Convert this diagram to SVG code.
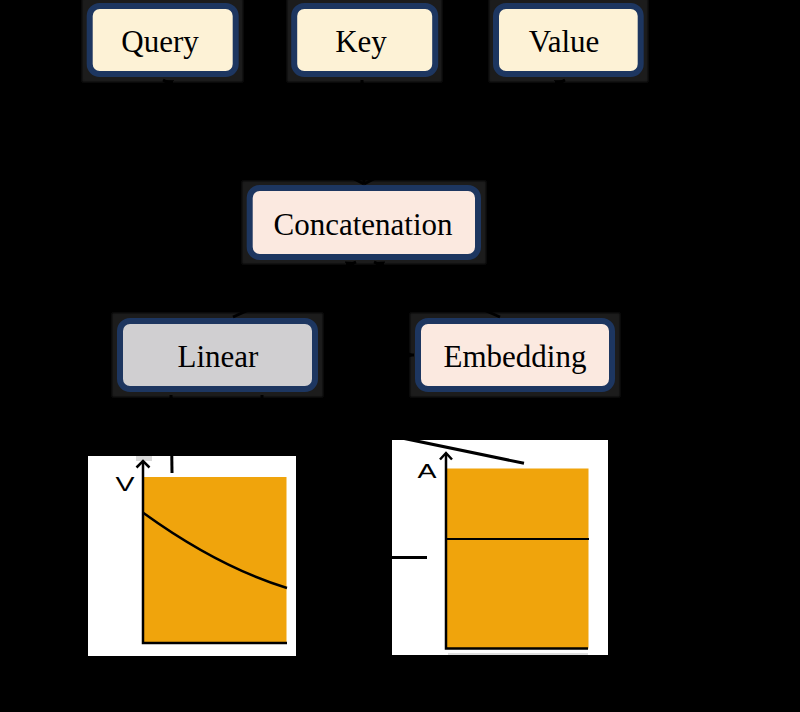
<svg xmlns="http://www.w3.org/2000/svg" width="800" height="712" viewBox="0 0 800 712">
<defs>
<marker id="arr" markerUnits="userSpaceOnUse" markerWidth="11" markerHeight="11" refX="10" refY="5" orient="auto">
<path d="M0,0 L10,5 L0,10 z" fill="#000"/>
</marker>
<filter id="soft" x="-10%" y="-10%" width="120%" height="120%">
<feGaussianBlur stdDeviation="1.5"/>
</filter>
<style>
.sh{fill:#1f1f1f;filter:url(#soft)}
.box{stroke:#1d3660;stroke-width:6}
.q{fill:#fdf2d6}
.p{fill:#fbe9e0}
.g{fill:#d0cfd1}
.lbl{font-family:"Liberation Serif","Times New Roman",serif;font-size:31px;fill:#000;text-anchor:middle}
.ax{font-family:"Liberation Sans",Arial,sans-serif;font-size:20px;fill:#000;text-anchor:middle}
.ln{stroke:#000;fill:none}
.con{stroke:#000;stroke-width:3;fill:none}
</style>
</defs>
<rect x="0" y="0" width="800" height="712" fill="#000"/>

<g id="plot-v">
<rect x="88" y="456" width="208" height="200" fill="#fff"/>
<rect x="136" y="456" width="16" height="5" fill="#d9d9d9"/>
<rect x="143.5" y="477" width="143" height="166" fill="#f0a40c"/>
<path class="ln" stroke-width="2.5" d="M143,462 V643 H287"/>
<path class="ln" stroke-width="2.5" d="M136.5,467.5 L143,461 L149.5,467.5"/>
<path class="ln" stroke-width="2.5" d="M143.5,513 C185,543 235,572 287,588"/>
<text class="ax" x="125" y="491" textLength="19" lengthAdjust="spacingAndGlyphs">V</text>
</g>

<g id="plot-a">
<rect x="392" y="440" width="216" height="215" fill="#fff"/>
<rect x="446.5" y="468.5" width="142" height="180" fill="#f0a40c"/>
<line x1="448" y1="654" x2="588" y2="654" stroke="#dedede" stroke-width="2"/>
<path class="ln" stroke-width="2.5" d="M446,454 V648.5 H588"/>
<path class="ln" stroke-width="2.5" d="M440,459.5 L446,453 L452,459.5"/>
<line class="ln" stroke-width="2" x1="446" y1="539" x2="589" y2="539"/>
<text class="ax" x="427" y="478" textLength="19" lengthAdjust="spacingAndGlyphs">A</text>
</g>

<g id="query">
<rect class="sh" x="82" y="-2" width="161" height="84"/>
<rect class="box q" x="89.7" y="6" width="146" height="68" rx="10"/>
<text class="lbl" x="160" y="52">Query</text>
</g>
<g id="key">
<rect class="sh" x="287" y="-2" width="155" height="84"/>
<rect class="box q" x="294.2" y="6" width="141" height="68" rx="10"/>
<text class="lbl" x="361" y="52">Key</text>
</g>
<g id="value">
<rect class="sh" x="489" y="-2" width="159" height="84"/>
<rect class="box q" x="496" y="6" width="144.7" height="68" rx="10"/>
<text class="lbl" x="564" y="52">Value</text>
</g>
<g id="concatenation">
<rect class="sh" x="242" y="181" width="244" height="83"/>
<rect class="box p" x="249.7" y="188" width="228.3" height="69" rx="10"/>
<text class="lbl" x="363" y="235">Concatenation</text>
</g>
<g id="linear">
<rect class="sh" x="112" y="313" width="211" height="84"/>
<rect class="box g" x="120" y="321" width="195" height="68" rx="10"/>
<text class="lbl" x="218" y="367">Linear</text>
</g>
<g id="embedding">
<rect class="sh" x="410" y="313" width="210" height="84"/>
<rect class="box p" x="418" y="321" width="194" height="68" rx="10"/>
<text class="lbl" x="515" y="367">Embedding</text>
</g>

<g id="connectors">
<path class="con" d="M364,184 L163,80" marker-end="url(#arr)"/>
<path class="con" d="M364,184 L362,80" marker-end="url(#arr)"/>
<path class="con" d="M364,184 L565,80" marker-end="url(#arr)"/>
<path class="con" d="M233,317 L356,262" marker-end="url(#arr)"/>
<path class="con" d="M500,317 L374,262" marker-end="url(#arr)"/>
<path class="con" d="M328,355 L414,355" marker-end="url(#arr)"/>
<path class="con" d="M172,473 L171,395" marker-end="url(#arr)"/>
<path class="con" d="M262,395 L262,409 L524,463.3"/>
<path class="con" d="M427,557.5 H300"/>
</g>
</svg>
